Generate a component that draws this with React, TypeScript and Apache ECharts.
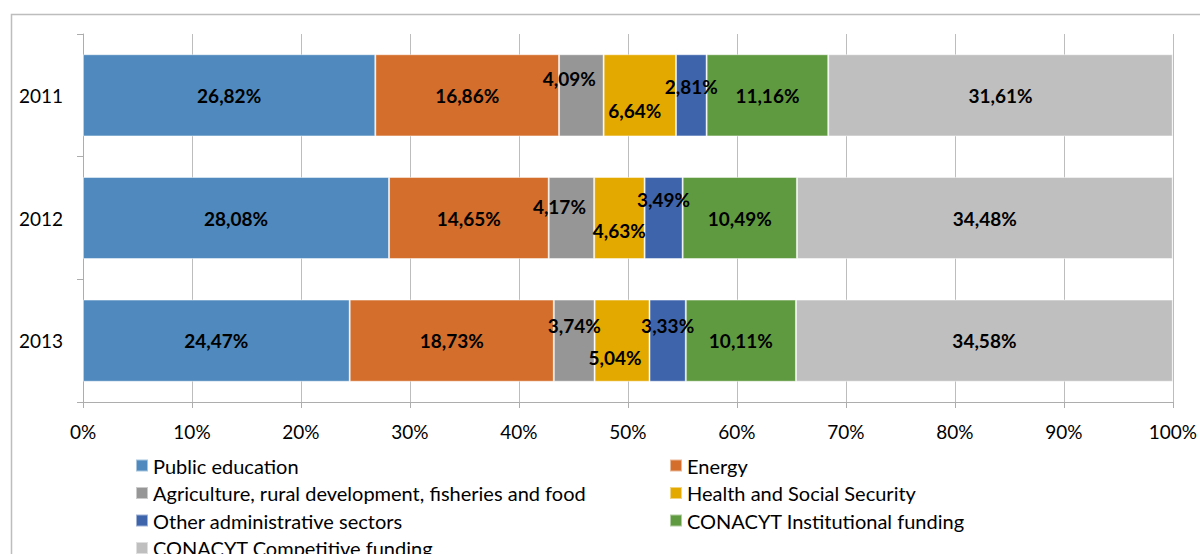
import React, { useEffect, useRef } from "react";
import * as echarts from "echarts";

const years = ["2011", "2012", "2013"];
const seriesNames = [
  "Public education",
  "Energy",
  "Agriculture, rural development, fisheries and food",
  "Health and Social Security",
  "Other administrative sectors",
  "CONACYT Institutional funding",
  "CONACYT Competitive funding",
];
const publicEducation = [26.82, 28.08, 24.47];
const energy = [16.86, 14.65, 18.73];
const agriculture = [4.09, 4.17, 3.74];
const health = [6.64, 4.63, 5.04];
const otherAdmin = [2.81, 3.49, 3.33];
const conacytInstitutional = [11.16, 10.49, 10.11];
const conacytCompetitive = [31.61, 34.48, 34.58];
const xTicks = [0, 10, 20, 30, 40, 50, 60, 70, 80, 90, 100];

const seriesValues = [
  publicEducation,
  energy,
  agriculture,
  health,
  otherAdmin,
  conacytInstitutional,
  conacytCompetitive,
];
const colors = ["#4F89BD", "#D46E2C", "#969696", "#E4A900", "#3E64AC", "#609A40", "#BFBFBF"];

// label placement tweaks (style, not data)
const labelOffsets: Record<number, number[][]> = {
  2: [[-12, -17], [-12, -12], [0, -15]],
  3: [[-5, 15], [0, 12], [-7, 17]],
  4: [[0, -9], [0, -19], [0, -15]],
};

const FONT = "Lato";

export default function App() {
  const ref = useRef<HTMLDivElement>(null);
  useEffect(() => {
    if (!ref.current) return;
    const chart = echarts.init(ref.current, null, { renderer: "svg" });
    const fmt = (v: number) => v.toFixed(2).replace(".", ",") + "%";
    const series = seriesNames.map((name, si) => ({
      name,
      type: "bar",
      stack: "total",
      barWidth: "67%",
      itemStyle: { color: colors[si], borderColor: "rgba(255,255,255,0.5)", borderWidth: 1 },
      label: {
        show: true,
        position: "inside",
        color: "#000",
        fontFamily: FONT,
        fontWeight: "bold",
        fontSize: 19,
        formatter: (p: any) => fmt(p.value),
      },
      data: seriesValues[si].map((v, yi) => {
        const off = labelOffsets[si] ? labelOffsets[si][yi] : null;
        return off ? { value: v, label: { offset: off } } : { value: v };
      }),
    }));
    const rowStep = 27.5;
    const firstTop = 455.5;
    const leftLegend = [seriesNames[0], seriesNames[2], seriesNames[4]];
    const rightLegend = [seriesNames[1], seriesNames[3], seriesNames[5]];
    const lastLegend = [seriesNames[6]];
    const legendCommon = {
      orient: "vertical",
      icon: "rect",
      itemWidth: 12,
      itemHeight: 12,
      itemGap: rowStep - 20,
      top: firstTop,
      textStyle: { fontFamily: FONT, fontSize: 20, color: "#000" },
      padding: 0,
      selectedMode: false,
    };
    chart.setOption({
      animation: false,
      textStyle: { fontFamily: FONT },
      grid: { left: 83, right: 24, top: 34, bottom: 152, containLabel: false },
      legend: [
        { ...legendCommon, left: 135, data: leftLegend },
        { ...legendCommon, left: 669, data: rightLegend },
        { ...legendCommon, left: 135, top: firstTop + 3 * rowStep, data: lastLegend },
      ],
      xAxis: {
        type: "value",
        min: xTicks[0],
        max: xTicks[xTicks.length - 1],
        interval: xTicks[1] - xTicks[0],
        axisLine: { show: true, lineStyle: { color: "#ADADAD", width: 1 } },
        axisTick: { show: true, length: 6, lineStyle: { color: "#ADADAD" } },
        splitLine: { show: true, lineStyle: { color: "#BDBDBD", width: 1 } },
        axisLabel: {
          formatter: (v: number) => v + "%",
          fontFamily: FONT,
          fontSize: 19,
          color: "#000",
          margin: 20,
        },
      },
      yAxis: {
        type: "category",
        inverse: true,
        data: years,
        axisLine: { show: true, lineStyle: { color: "#ADADAD", width: 1 } },
        axisTick: { show: true, length: 6, lineStyle: { color: "#ADADAD" } },
        axisLabel: { fontFamily: FONT, fontSize: 19, color: "#000", margin: 20 },
      },
      graphic: [
        {
          type: "rect",
          silent: true,
          shape: { x: 11.5, y: 14.5, width: 1400, height: 800 },
          style: { fill: "none", stroke: "#BDBDBD", lineWidth: 1.5 },
          z: -1,
        },
      ],
      series,
    });
    return () => chart.dispose();
  }, []);
  return (
    <div
      ref={ref}
      style={{ position: "fixed", left: 0, top: 0, width: 1200, height: 554, background: "#fff" }}
    />
  );
}
